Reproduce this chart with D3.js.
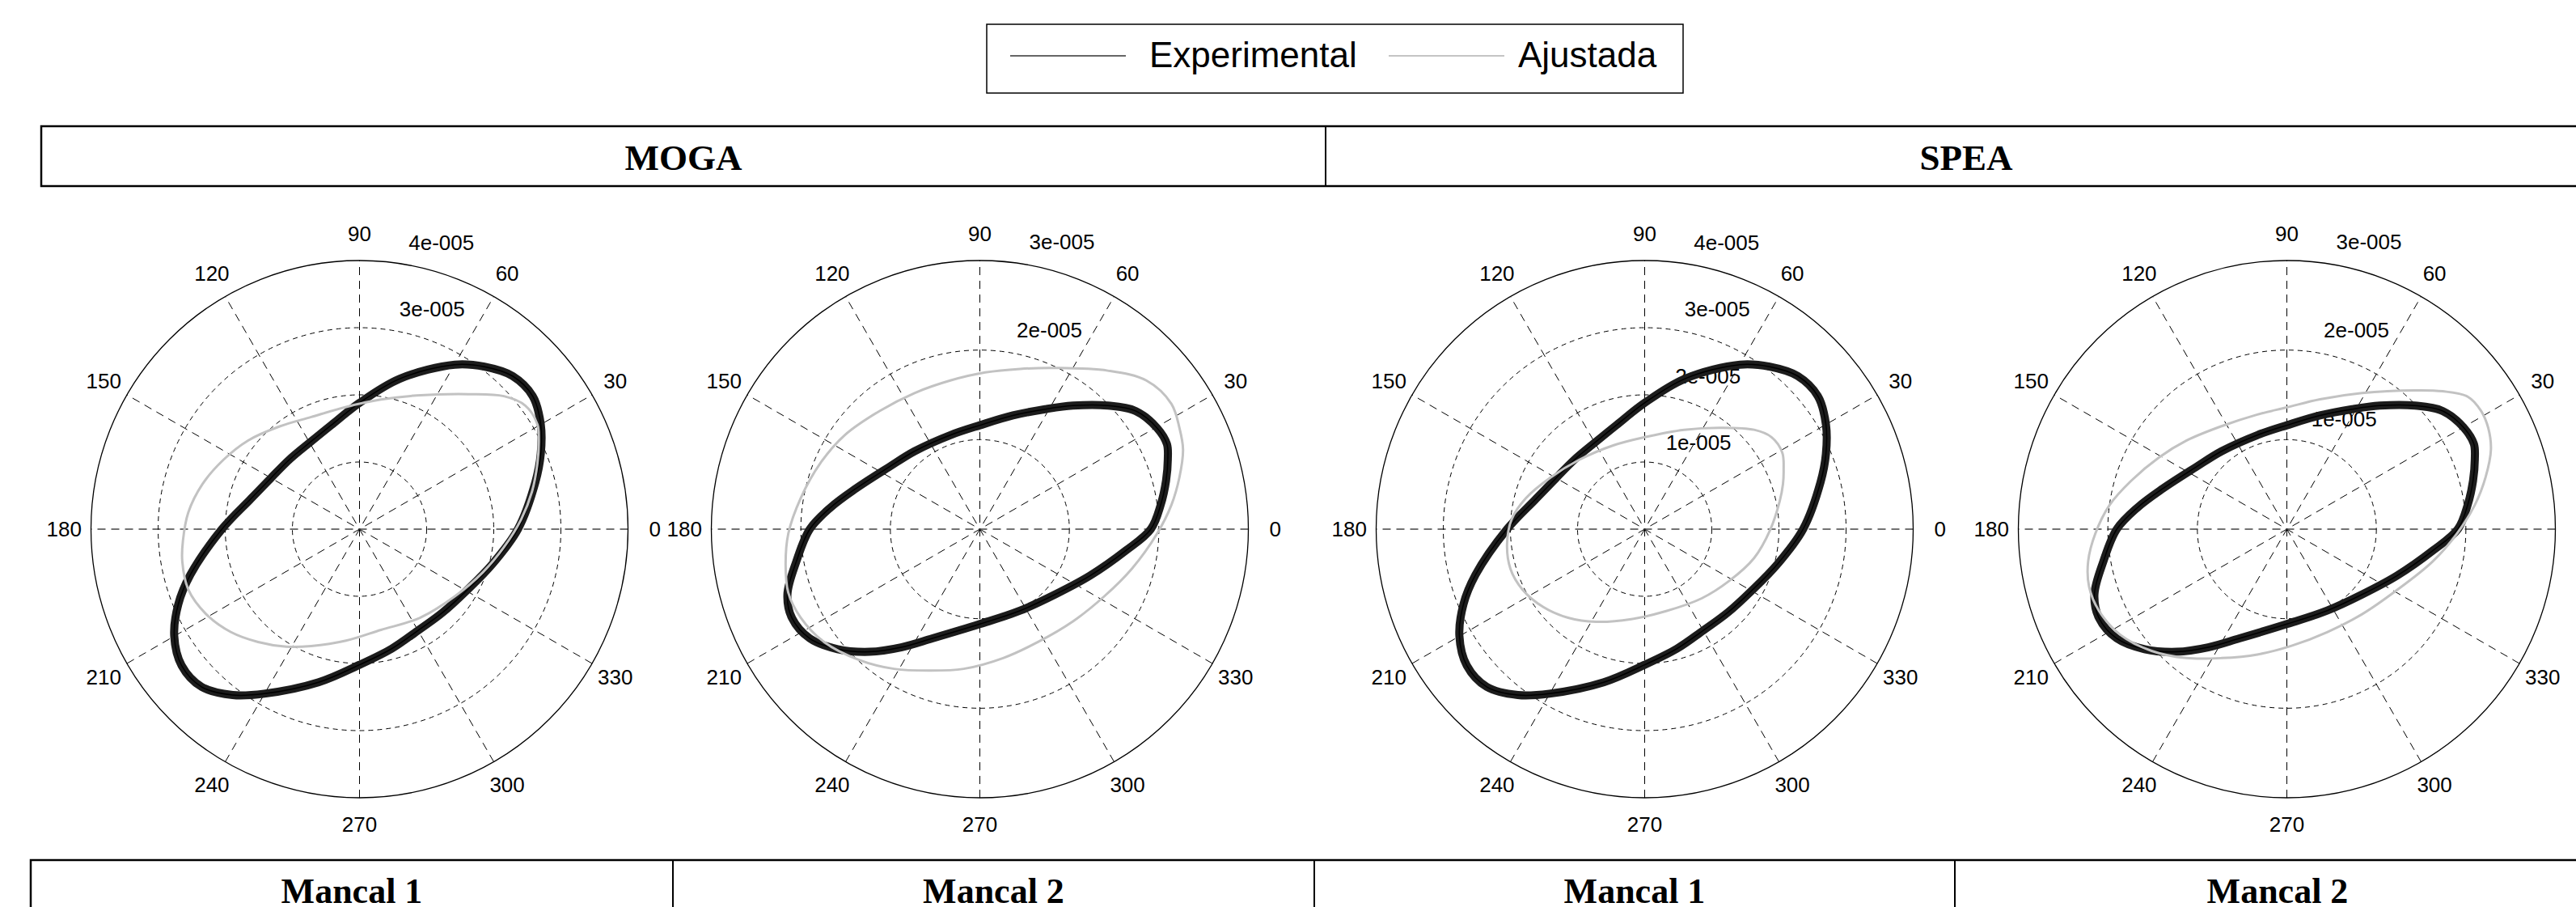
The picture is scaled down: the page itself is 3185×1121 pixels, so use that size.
<!DOCTYPE html>
<html>
<head>
<meta charset="utf-8">
<script src="https://cdn.jsdelivr.net/npm/d3@7"></script>
<style>
  body { margin: 0; background: #fff; }
  svg { display: block; }
  .lbl { font-family: "Liberation Sans", Arial, Helvetica, sans-serif; font-size: 26px; fill: #000; }
  .leg { font-family: "Liberation Sans", Arial, Helvetica, sans-serif; font-size: 44px; fill: #000; }
  .hdr { font-family: "Liberation Serif", "Times New Roman", serif; font-weight: bold; fill: #000; }
</style>
</head>
<body>
<div id="chart"></div>
<script>
// categories
const methods = ["MOGA", "SPEA"];
const bearings = ["Mancal 1", "Mancal 2"];
const legendLabels = ["Experimental", "Ajustada"];
const angleTicks = [0, 30, 60, 90, 120, 150, 180, 210, 240, 270, 300, 330];
const radialLabels = ["1e-005", "2e-005", "3e-005", "4e-005"];
const radialMax = [4, 3]; // per bearing, in 1e-5 m

// experimental orbit (measured cycles), x / y in 1e-5 m
const expM1X = [2.36, 2.62, 2.70, 2.70, 2.58, 2.28, 1.86, 1.42, 0.60, 0.00, -0.42, -0.74, -1.04, -1.32, -1.63, -2.05, -2.52, -2.70, -2.76, -2.65, -2.35, -1.89, -1.42, -0.61, 0.00, 0.48, 0.87, 1.24, 1.59, 1.97];
const expM1Y = [0.00, 0.70, 1.12, 1.56, 1.98, 2.28, 2.42, 2.45, 2.24, 1.88, 1.55, 1.29, 1.04, 0.76, 0.44, 0.00, -0.68, -1.12, -1.59, -2.03, -2.35, -2.47, -2.45, -2.28, -2.02, -1.78, -1.51, -1.24, -0.92, -0.53];
const expM2X = [2.10, 2.09, 1.98, 1.74, 1.43, 1.04, 0.73, 0.37, 0.00, -0.33, -0.73, -1.02, -1.39, -1.67, -1.90, -2.05, -2.15, -2.10, -1.90, -1.59, -1.23, -0.88, -0.53, 0.00, 0.45, 0.84, 1.23, 1.63, 1.91, 2.02, 2.08];
const expM2Y = [0.78, 0.95, 1.13, 1.32, 1.38, 1.38, 1.34, 1.27, 1.16, 1.05, 0.87, 0.69, 0.45, 0.24, 0.00, -0.36, -0.73, -0.99, -1.22, -1.34, -1.37, -1.32, -1.22, -1.06, -0.91, -0.73, -0.52, -0.24, 0.00, 0.27, 0.54];

// fitted orbits (Ajustada), x / y in 1e-5 m
const mogaM1X = [2.67, 2.65, 2.47, 2.15, 1.63, 0.85, 0.32, -0.20, -0.72, -1.19, -1.66, -2.03, -2.34, -2.55, -2.63, -2.64, -2.55, -2.29, -1.92, -1.51, -1.09, -0.72, -0.20, 0.32, 0.90, 1.42, 1.84, 2.15, 2.41, 2.57, 2.65];
const mogaM1Y = [1.35, 1.56, 1.84, 1.98, 2.01, 1.99, 1.93, 1.82, 1.67, 1.53, 1.32, 1.03, 0.67, 0.25, -0.17, -0.48, -0.90, -1.26, -1.53, -1.68, -1.75, -1.74, -1.66, -1.50, -1.32, -1.00, -0.64, -0.27, 0.15, 0.56, 0.98];
const mogaM2X = [2.27, 2.23, 2.14, 1.86, 1.43, 0.84, 0.45, 0.06, -0.33, -0.73, -1.12, -1.51, -1.78, -2.00, -2.14, -2.17, -2.14, -2.00, -1.74, -1.35, -0.96, -0.57, -0.18, 0.26, 0.65, 1.04, 1.39, 1.70, 1.98, 2.14, 2.23];
const mogaM2Y = [0.89, 1.13, 1.40, 1.66, 1.77, 1.80, 1.79, 1.75, 1.66, 1.52, 1.32, 1.05, 0.74, 0.35, -0.05, -0.40, -0.71, -0.99, -1.26, -1.46, -1.56, -1.58, -1.56, -1.44, -1.26, -1.03, -0.75, -0.44, -0.05, 0.27, 0.58];
const speaM1X = [2.07, 2.05, 1.89, 1.63, 1.11, 0.59, 0.00, -0.46, -0.98, -1.40, -1.77, -1.98, -2.05, -2.00, -1.82, -1.51, -1.14, -0.72, -0.20, 0.32, 0.85, 1.26, 1.63, 1.87, 2.01, 2.06];
const speaM1Y = [0.88, 1.14, 1.37, 1.48, 1.51, 1.48, 1.37, 1.25, 1.03, 0.77, 0.46, 0.15, -0.22, -0.59, -0.90, -1.16, -1.32, -1.38, -1.34, -1.22, -1.03, -0.77, -0.43, -0.01, 0.41, 0.67];
const speaM2X = [2.28, 2.25, 2.17, 2.02, 1.74, 1.43, 0.84, 0.37, 0.00, -0.33, -0.73, -1.12, -1.43, -1.74, -1.98, -2.14, -2.22, -2.21, -2.10, -1.86, -1.51, -1.12, -0.73, -0.33, 0.06, 0.45, 0.84, 1.23, 1.63, 1.90, 2.10, 2.22];
const speaM2Y = [0.89, 1.13, 1.32, 1.48, 1.54, 1.55, 1.52, 1.45, 1.36, 1.28, 1.15, 0.99, 0.80, 0.54, 0.27, -0.05, -0.36, -0.64, -0.91, -1.18, -1.36, -1.44, -1.44, -1.40, -1.30, -1.15, -0.95, -0.68, -0.36, -0.05, 0.27, 0.58];

const W = 3185, H = 1121;
const svg = d3.select("#chart").append("svg")
  .attr("width", W).attr("height", H)
  .attr("viewBox", `0 0 ${W} ${H}`);
svg.append("rect").attr("width", W).attr("height", H).attr("fill", "#fff");

const zip = (xs, ys) => xs.map((x, i) => [x, ys[i]]);
const panels = [
  { method: 0, bearing: 0, cx: 444.5, exp: zip(expM1X, expM1Y), fit: zip(mogaM1X, mogaM1Y), rings: [3, 4] },
  { method: 0, bearing: 1, cx: 1211.5, exp: zip(expM2X, expM2Y), fit: zip(mogaM2X, mogaM2Y), rings: [2, 3] },
  { method: 1, bearing: 0, cx: 2033.5, exp: zip(expM1X, expM1Y), fit: zip(speaM1X, speaM1Y), rings: [1, 2, 3, 4] },
  { method: 1, bearing: 1, cx: 2827.5, exp: zip(expM2X, expM2Y), fit: zip(speaM2X, speaM2Y), rings: [1, 2, 3] }
];
const cy = 654, R = 332;
const rad = Math.PI / 180;

// legend
const leg = svg.append("g");
leg.append("rect").attr("x", 1220).attr("y", 30).attr("width", 861).attr("height", 85)
  .attr("fill", "#fff").attr("stroke", "#000").attr("stroke-width", 1.5);
leg.append("line").attr("x1", 1249).attr("x2", 1392).attr("y1", 69).attr("y2", 69)
  .attr("stroke", "#333").attr("stroke-width", 1.5);
leg.append("text").attr("class", "leg").attr("x", 1421).attr("y", 83).text(legendLabels[0]);
leg.append("line").attr("x1", 1717).attr("x2", 1860).attr("y1", 69).attr("y2", 69)
  .attr("stroke", "#c4c4c4").attr("stroke-width", 2);
leg.append("text").attr("class", "leg").attr("x", 1877).attr("y", 83).text(legendLabels[1]);

// header row (methods)
const hdr = svg.append("g");
hdr.append("rect").attr("x", 51).attr("y", 156).attr("width", 3200).attr("height", 74)
  .attr("fill", "none").attr("stroke", "#000").attr("stroke-width", 2.5);
hdr.append("line").attr("x1", 1639).attr("x2", 1639).attr("y1", 156).attr("y2", 230)
  .attr("stroke", "#000").attr("stroke-width", 2);
[[51, 1639], [1639, 3223]].forEach((b, i) => {
  hdr.append("text").attr("class", "hdr").attr("font-size", 45)
    .attr("x", (b[0] + b[1]) / 2).attr("y", 210).attr("text-anchor", "middle").text(methods[i]);
});

// bottom row (bearings)
const bot = svg.append("g");
bot.append("rect").attr("x", 38).attr("y", 1063).attr("width", 3200).attr("height", 120)
  .attr("fill", "none").attr("stroke", "#000").attr("stroke-width", 2.5);
const cols = [38, 832, 1625, 2417, 3215];
[832, 1625, 2417].forEach(x => {
  bot.append("line").attr("x1", x).attr("x2", x).attr("y1", 1063).attr("y2", H)
    .attr("stroke", "#000").attr("stroke-width", 2);
});
panels.forEach((p, i) => {
  bot.append("text").attr("class", "hdr").attr("font-size", 44)
    .attr("x", (cols[i] + cols[i + 1]) / 2).attr("y", 1116).attr("text-anchor", "middle")
    .text(bearings[p.bearing]);
});

// polar panels
const orbit = d3.line().curve(d3.curveCatmullRomClosed.alpha(0.5));

panels.forEach(p => {
  const rmax = radialMax[p.bearing];
  const r = d3.scaleLinear().domain([0, rmax]).range([0, R]);
  const x = d3.scaleLinear().domain([-rmax, rmax]).range([p.cx - R, p.cx + R]);
  const y = d3.scaleLinear().domain([-rmax, rmax]).range([cy + R, cy - R]);
  const g = svg.append("g");

  // spokes
  d3.range(30, 181, 30).forEach(a => {
    const c = Math.cos(a * rad), s = Math.sin(a * rad);
    g.append("line")
      .attr("x1", x(-rmax * c)).attr("y1", y(-rmax * s))
      .attr("x2", x(rmax * c)).attr("y2", y(rmax * s))
      .attr("stroke", a === 180 ? "#444" : "#000").attr("stroke-width", a === 180 ? 1.4 : 1)
      .attr("stroke-dasharray", "10,7");
  });
  // rings
  d3.range(1, rmax).forEach(v => {
    g.append("circle").attr("cx", p.cx).attr("cy", cy).attr("r", r(v))
      .attr("fill", "none").attr("stroke", "#000").attr("stroke-width", 1)
      .attr("stroke-dasharray", "6,5");
  });
  g.append("circle").attr("cx", p.cx).attr("cy", cy).attr("r", r(rmax))
    .attr("fill", "none").attr("stroke", "#000").attr("stroke-width", 1.3);

  // angle labels
  angleTicks.forEach(a => {
    g.append("text").attr("class", "lbl")
      .attr("x", x(1.1 * rmax * Math.cos(a * rad)))
      .attr("y", y(1.1 * rmax * Math.sin(a * rad)))
      .attr("text-anchor", "middle").attr("dominant-baseline", "central")
      .text(a);
  });
  // radial labels at 82 degrees
  p.rings.forEach(v => {
    const rr = v + 1 / 20;
    g.append("text").attr("class", "lbl")
      .attr("x", x(rr * Math.cos(82 * rad)) + 14)
      .attr("y", y(rr * Math.sin(82 * rad)) - 12)
      .text(radialLabels[v - 1]);
  });

  // experimental band
  const ep = p.exp.map(d => [x(d[0]), y(d[1])]);
  g.append("path").attr("d", orbit(ep))
    .attr("fill", "none").attr("stroke", "#1c1c1c").attr("stroke-width", 10)
    .attr("stroke-linejoin", "round");
  g.append("path").attr("d", orbit(ep))
    .attr("fill", "none").attr("stroke", "#000").attr("stroke-width", 1.5);

  // fitted
  const fp = p.fit.map(d => [x(d[0]), y(d[1])]);
  g.append("path").attr("d", orbit(fp))
    .attr("fill", "none").attr("stroke", "#c2c2c2").attr("stroke-width", 3);
});
</script>
</body>
</html>
